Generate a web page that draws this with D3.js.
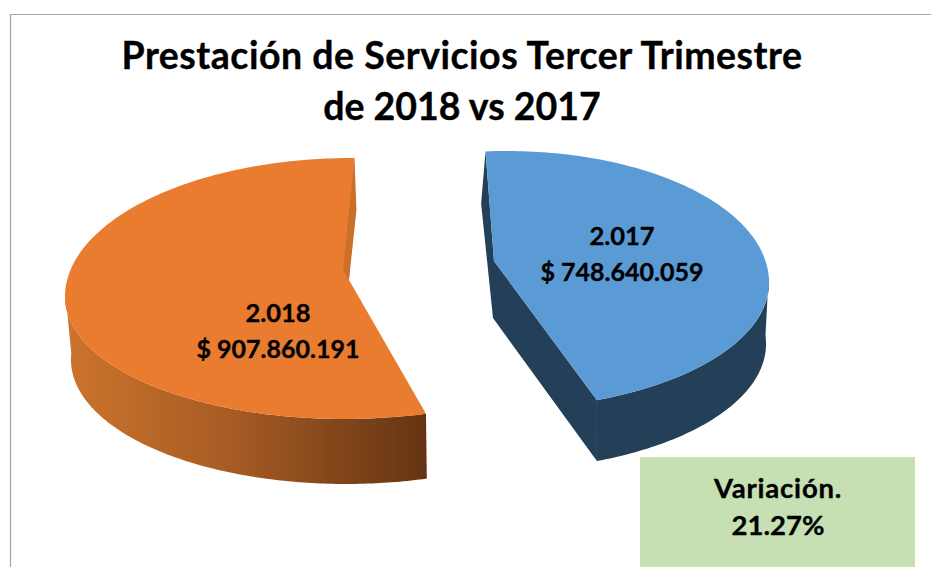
<!DOCTYPE html>
<html>
<head>
<meta charset="utf-8">
<script src="https://cdn.jsdelivr.net/npm/d3@7/dist/d3.min.js"></script>
<style>
html,body{margin:0;padding:0;background:#fff;overflow:hidden}
text{font-family:Lato,"Open Sans",sans-serif;font-weight:700;fill:#000;stroke:#000;stroke-width:.35;text-anchor:middle}
</style>
</head>
<body>
<svg id="c" width="931" height="567"></svg>
<script>
const titleLines = ["Prestación de Servicios Tercer Trimestre", "de 2018 vs 2017"];
const years = ["2.017", "2.018"];
const values = [748640059, 907860191];
const noteLines = ["Variación.", "21.27%"];

const locale = d3.formatLocale({decimal: ",", thousands: ".", grouping: [3], currency: ["$ ", ""]});
const money = locale.format("$,d");
const rad = Math.PI / 180;

// Projection of each exploded slice: rim ellipses of the top and bottom faces.
const geometry = [
  {rot: 0,
   top: {cx: 502, cy: 285, rx: 267, ryBack: 134, ryFront: 124, sk: 4.5},
   bot: {cx: 500, cy: 345, rx: 266, ryBack: 142, ryFront: 125, sk: 2},
   apex: [494, 261], apexBot: [493, 318],
   labelXY: [622, 245]},
  {rot: 5 * rad,
   top: {cx: 348, cy: 295, rx: 283, ryBack: 137, ryFront: 124, sk: 4},
   bot: {cx: 350, cy: 358, rx: 279, ryBack: 148, ryFront: 126, sk: 4},
   apex: [349, 280], apexBot: [343, 270],
   labelXY: [278, 322]}
];

const svg = d3.select("#c");
const defs = svg.append("defs");
const grad = defs.append("linearGradient").attr("id", "wallO")
  .attr("gradientUnits", "userSpaceOnUse").attr("x1", 65).attr("x2", 427).attr("y1", 0).attr("y2", 0);
grad.append("stop").attr("offset", 0).attr("stop-color", "#cc742c");
grad.append("stop").attr("offset", 0.45).attr("stop-color", "#a85c24");
grad.append("stop").attr("offset", 1).attr("stop-color", "#643412");

// Frame
svg.append("path").attr("d", "M10.5,567V14.5H931").attr("fill", "none").attr("stroke", "#a6a6a6").attr("stroke-width", 1.2);

// Title
svg.selectAll("text.title").data(titleLines).join("text").attr("class", "title")
  .attr("x", 462)
  .attr("y", (d, i) => 69 + i * 51)
  .attr("font-size", 37.5)
  .attr("letter-spacing", (d, i) => i ? 0 : 0.5)
  .text(d => d);

const pie = d3.pie().sort(null).startAngle(-4.5 * rad).endAngle(355.5 * rad);
const arcs = pie(values);

const rim = (e, a) => [
  e.cx + e.rx * Math.sin(a) + e.sk * Math.cos(a),
  e.cy - (Math.cos(a) > 0 ? e.ryBack : e.ryFront) * Math.cos(a)
];
const sample = (a0, a1, n = 160) => d3.range(n + 1).map(i => a0 + (a1 - a0) * i / n);
const line = d3.line();

arcs.forEach((d, i) => {
  const g = geometry[i];
  const a0 = d.startAngle + g.rot, a1 = d.endAngle + g.rot;
  const gr = svg.append("g");
  if (i === 0) {
    // inner cut faces
    gr.append("path").attr("fill", "#243f58").attr("d", line([
      rim(g.top, a0), rim(g.bot, a0), g.apexBot, rim(g.bot, a1), rim(g.top, a1), g.apex
    ]) + "Z");
    // front wall
    const t = sample(a0, a1);
    gr.append("path").attr("fill", "#243f58").attr("d",
      line(t.filter(a => a >= 85 * rad).map(a => rim(g.top, a))
        .concat(t.filter(a => a >= 85 * rad).reverse().map(a => rim(g.bot, a)))) + "Z");
    gr.append("path").attr("fill", "#5b9bd5").attr("d",
      line([g.apex].concat(t.map(a => rim(g.top, a)))) + "Z");
  } else {
    const t = sample(a0, a1, 240);
    const w = t.filter(a => a <= 272 * rad);
    gr.append("path").attr("fill", "url(#wallO)").attr("d",
      line(w.map(a => rim(g.top, a)).concat(w.slice().reverse().map(a => rim(g.bot, a)))) + "Z");
    gr.append("path").attr("fill", "#ea7c30").attr("d",
      line([g.apex].concat(t.map(a => rim(g.top, a)))) + "Z");
    gr.append("path").attr("fill", "#c9702a").attr("d", line([
      rim(g.top, a1), rim(g.bot, a1), g.apex, g.apexBot
    ]) + "Z");
  }
  svg.append("text").attr("x", g.labelXY[0]).attr("y", g.labelXY[1]).attr("font-size", 25.5).text(years[i]);
  svg.append("text").attr("x", g.labelXY[0]).attr("y", g.labelXY[1] + 36).attr("font-size", 25).text(money(d.data));
});

// Variation note
svg.append("rect").attr("x", 640).attr("y", 457).attr("width", 275).attr("height", 110).attr("fill", "#c6e0b4");
svg.selectAll("text.note").data(noteLines).join("text").attr("class", "note")
  .attr("x", 778).attr("y", (d, i) => 498 + i * 37).attr("font-size", 27.5)
  .attr("letter-spacing", (d, i) => i ? 0 : 0.8).text(d => d);
</script>
</body>
</html>
